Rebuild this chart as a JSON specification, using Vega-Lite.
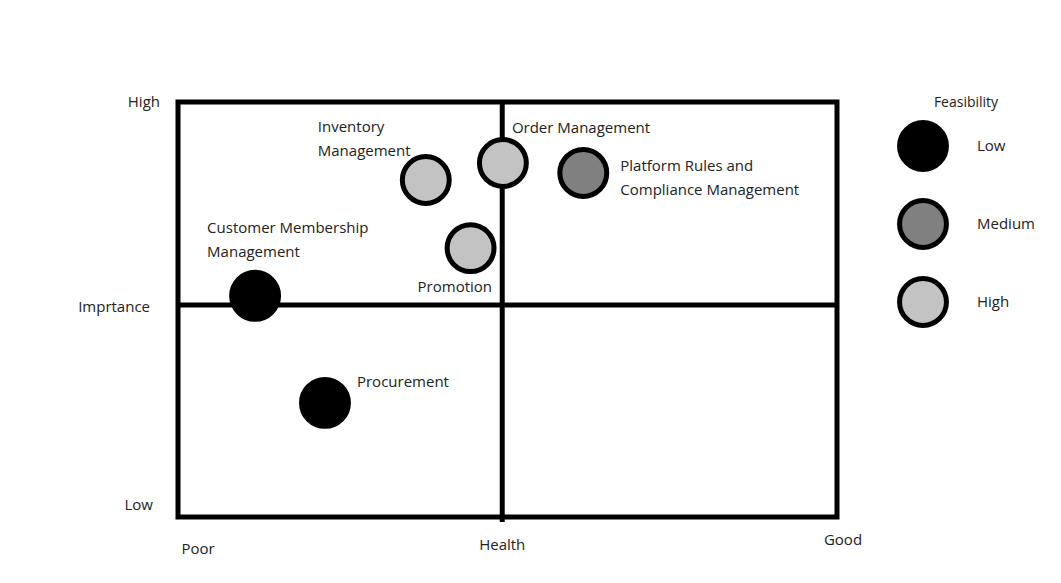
{
  "$schema": "https://vega.github.io/schema/vega-lite/v6.json",
  "width": 659,
  "height": 415,
  "autosize": {"type": "none"},
  "padding": {"left": 178, "top": 102, "right": 224, "bottom": 66},
  "background": "white",
  "config": {
    "view": {"stroke": "black", "strokeWidth": 5},
    "axis": {"disable": true},
    "text": {"font": "Open Sans", "fontSize": 15, "color": "#222222"},
    "legend": {"padding": 0}
  },
  "datasets": {
    "topics": [
      {"name": "Customer Membership Management", "label": "Customer Membership\nManagement", "health": 11.7, "importance": 53.3, "feasibility": "Low"},
      {"name": "Procurement", "label": "Procurement", "health": 22.3, "importance": 27.5, "feasibility": "Low"},
      {"name": "Inventory Management", "label": "Inventory\nManagement", "health": 37.6, "importance": 81.2, "feasibility": "High"},
      {"name": "Promotion", "label": "Promotion", "health": 44.4, "importance": 64.8, "feasibility": "High"},
      {"name": "Order Management", "label": "Order Management", "health": 49.3, "importance": 85.3, "feasibility": "High"},
      {"name": "Platform Rules and Compliance Management", "label": "Platform Rules and\nCompliance Management", "health": 61.5, "importance": 82.9, "feasibility": "Medium"}
    ]
  },
  "layer": [
    {
      "data": {"values": [{}]},
      "mark": {"type": "rule", "stroke": "black", "strokeWidth": 5},
      "encoding": {
        "x": {"datum": 49.2, "type": "quantitative", "scale": {"domain": [0, 100]}, "axis": null},
        "y": {"datum": 100, "type": "quantitative", "scale": {"domain": [0, 100]}, "axis": null},
        "y2": {"datum": -1.2}
      }
    },
    {
      "data": {"values": [{}]},
      "mark": {"type": "rule", "stroke": "black", "strokeWidth": 5},
      "encoding": {
        "x": {"datum": 0, "type": "quantitative", "scale": {"domain": [0, 100]}},
        "x2": {"datum": 100},
        "y": {"datum": 51.1, "type": "quantitative", "scale": {"domain": [0, 100]}}
      }
    },
    {
      "data": {"name": "topics"},
      "mark": {"type": "point", "shape": "circle", "filled": true, "size": 2200, "stroke": "black", "strokeWidth": 5, "opacity": 1},
      "encoding": {
        "x": {"field": "health", "type": "quantitative", "scale": {"domain": [0, 100]}, "axis": null},
        "y": {"field": "importance", "type": "quantitative", "scale": {"domain": [0, 100]}, "axis": null},
        "fill": {
          "field": "feasibility",
          "type": "nominal",
          "scale": {"domain": ["Low", "Medium", "High"], "range": ["#000000", "#808080", "#c3c3c3"]},
          "legend": {
            "title": "Feasibility",
            "orient": "none",
            "legendX": 719,
            "legendY": -6,
            "titleFont": "Open Sans",
            "titleFontSize": 14,
            "titleFontWeight": "normal",
            "titleColor": "#222222",
            "titleAnchor": "middle",
            "titlePadding": 10,
            "labelFont": "Open Sans",
            "labelFontSize": 15,
            "labelColor": "#222222",
            "labelOffset": 28,
            "symbolType": "circle",
            "symbolSize": 2200,
            "symbolStrokeColor": "black",
            "symbolStrokeWidth": 5,
            "symbolOpacity": 1,
            "rowPadding": 10
          }
        }
      }
    },
    {
      "data": {"name": "topics"},
      "transform": [{"filter": "datum.name === 'Customer Membership Management'"}],
      "mark": {"type": "text", "align": "left", "baseline": "middle", "dx": -48, "dy": -67.5, "lineBreak": "\n", "lineHeight": 24},
      "encoding": {
        "x": {"field": "health", "type": "quantitative", "scale": {"domain": [0, 100]}},
        "y": {"field": "importance", "type": "quantitative", "scale": {"domain": [0, 100]}},
        "text": {"field": "label"}
      }
    },
    {
      "data": {"name": "topics"},
      "transform": [{"filter": "datum.name === 'Procurement'"}],
      "mark": {"type": "text", "align": "left", "baseline": "middle", "dx": 32, "dy": -21},
      "encoding": {
        "x": {"field": "health", "type": "quantitative", "scale": {"domain": [0, 100]}},
        "y": {"field": "importance", "type": "quantitative", "scale": {"domain": [0, 100]}},
        "text": {"field": "label"}
      }
    },
    {
      "data": {"name": "topics"},
      "transform": [{"filter": "datum.name === 'Inventory Management'"}],
      "mark": {"type": "text", "align": "left", "baseline": "middle", "dx": -108, "dy": -53.5, "lineBreak": "\n", "lineHeight": 24},
      "encoding": {
        "x": {"field": "health", "type": "quantitative", "scale": {"domain": [0, 100]}},
        "y": {"field": "importance", "type": "quantitative", "scale": {"domain": [0, 100]}},
        "text": {"field": "label"}
      }
    },
    {
      "data": {"name": "topics"},
      "transform": [{"filter": "datum.name === 'Promotion'"}],
      "mark": {"type": "text", "align": "left", "baseline": "middle", "dx": -53, "dy": 39},
      "encoding": {
        "x": {"field": "health", "type": "quantitative", "scale": {"domain": [0, 100]}},
        "y": {"field": "importance", "type": "quantitative", "scale": {"domain": [0, 100]}},
        "text": {"field": "label"}
      }
    },
    {
      "data": {"name": "topics"},
      "transform": [{"filter": "datum.name === 'Order Management'"}],
      "mark": {"type": "text", "align": "left", "baseline": "middle", "dx": 9, "dy": -35},
      "encoding": {
        "x": {"field": "health", "type": "quantitative", "scale": {"domain": [0, 100]}},
        "y": {"field": "importance", "type": "quantitative", "scale": {"domain": [0, 100]}},
        "text": {"field": "label"}
      }
    },
    {
      "data": {"name": "topics"},
      "transform": [{"filter": "datum.name === 'Platform Rules and Compliance Management'"}],
      "mark": {"type": "text", "align": "left", "baseline": "middle", "dx": 37, "dy": -7, "lineBreak": "\n", "lineHeight": 24},
      "encoding": {
        "x": {"field": "health", "type": "quantitative", "scale": {"domain": [0, 100]}},
        "y": {"field": "importance", "type": "quantitative", "scale": {"domain": [0, 100]}},
        "text": {"field": "label"}
      }
    },
    {
      "data": {"values": [{}]},
      "mark": {"type": "text", "align": "right", "baseline": "middle", "dx": -18, "dy": 0},
      "encoding": {
        "x": {"datum": 0, "type": "quantitative", "scale": {"domain": [0, 100]}},
        "y": {"datum": 100, "type": "quantitative", "scale": {"domain": [0, 100]}},
        "text": {"value": "High"}
      }
    },
    {
      "data": {"values": [{}]},
      "mark": {"type": "text", "align": "right", "baseline": "middle", "dx": -28, "dy": 2},
      "encoding": {
        "x": {"datum": 0, "type": "quantitative", "scale": {"domain": [0, 100]}},
        "y": {"datum": 51.1, "type": "quantitative", "scale": {"domain": [0, 100]}},
        "text": {"value": "Imprtance"}
      }
    },
    {
      "data": {"values": [{}]},
      "mark": {"type": "text", "align": "right", "baseline": "middle", "dx": -25, "dy": -12},
      "encoding": {
        "x": {"datum": 0, "type": "quantitative", "scale": {"domain": [0, 100]}},
        "y": {"datum": 0, "type": "quantitative", "scale": {"domain": [0, 100]}},
        "text": {"value": "Low"}
      }
    },
    {
      "data": {"values": [{}]},
      "mark": {"type": "text", "align": "center", "baseline": "middle", "dx": 20, "dy": 32},
      "encoding": {
        "x": {"datum": 0, "type": "quantitative", "scale": {"domain": [0, 100]}},
        "y": {"datum": 0, "type": "quantitative", "scale": {"domain": [0, 100]}},
        "text": {"value": "Poor"}
      }
    },
    {
      "data": {"values": [{}]},
      "mark": {"type": "text", "align": "center", "baseline": "middle", "dx": 0, "dy": 28},
      "encoding": {
        "x": {"datum": 49.2, "type": "quantitative", "scale": {"domain": [0, 100]}},
        "y": {"datum": 0, "type": "quantitative", "scale": {"domain": [0, 100]}},
        "text": {"value": "Health"}
      }
    },
    {
      "data": {"values": [{}]},
      "mark": {"type": "text", "align": "center", "baseline": "middle", "dx": 6, "dy": 23},
      "encoding": {
        "x": {"datum": 100, "type": "quantitative", "scale": {"domain": [0, 100]}},
        "y": {"datum": 0, "type": "quantitative", "scale": {"domain": [0, 100]}},
        "text": {"value": "Good"}
      }
    }
  ]
}
